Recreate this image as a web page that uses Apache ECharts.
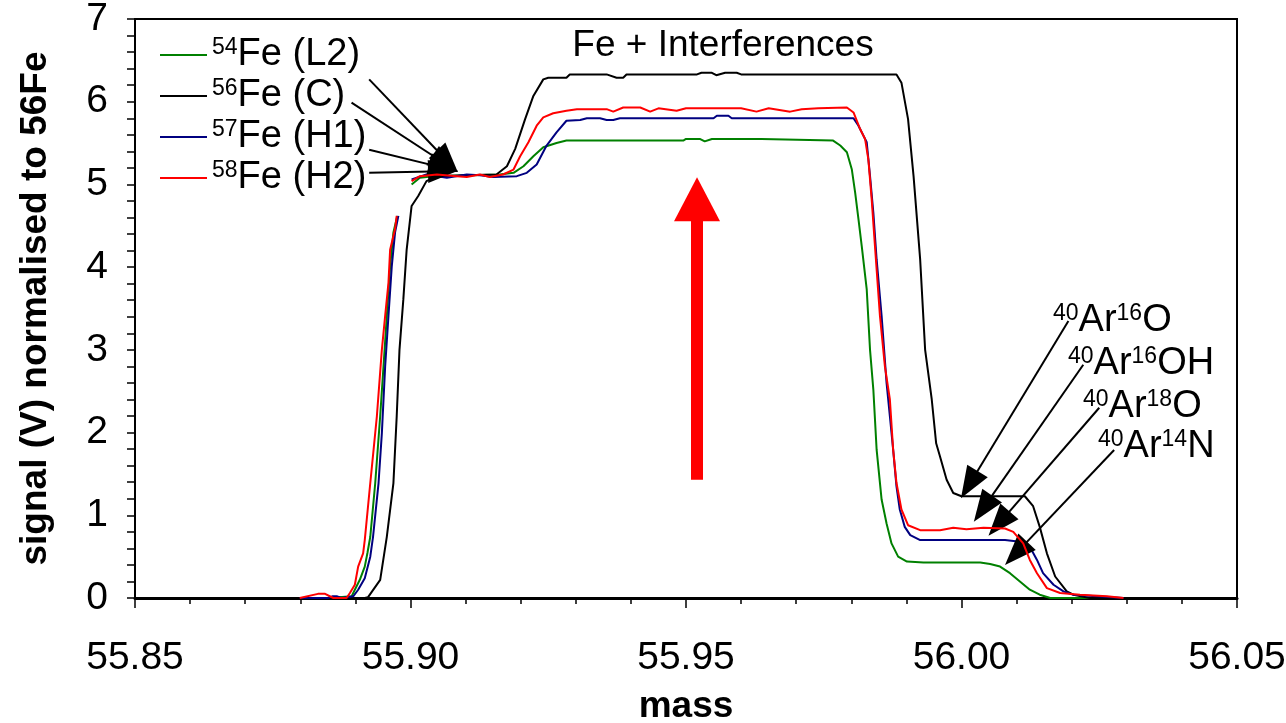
<!DOCTYPE html>
<html><head><meta charset="utf-8">
<script src="https://cdn.jsdelivr.net/npm/echarts@6/dist/echarts.min.js"></script>
<style>html,body{margin:0;padding:0;background:#fff}#c{width:1286px;height:723px}</style>
</head><body><div id="c"></div><script>
// ---- data (mass, signal) ----
const seriesNames = ['54Fe (L2)', '56Fe (C)', '57Fe (H1)', '58Fe (H2)'];
const seriesColors = ['#008000', '#000000', '#000080', '#ff0000'];

const fe54 = [[55.8799,0],[55.8850,0],[55.8870,0.01],[55.8893,0.02],[55.8899,0.10],[55.8908,0.22],[55.8917,0.38],[55.8922,0.55],[55.8927,0.74],[55.8936,1.39],[55.8945,2.20],[55.8951,2.80],[55.8957,3.41],[55.8963,4.01],[55.8969,4.42],[55.8976,4.62],[55.8990,null],[55.9002,5.00],[55.9017,5.08],[55.9041,5.10],[55.9162,5.12],[55.9187,5.14],[55.9205,5.22],[55.9223,5.34],[55.9241,5.45],[55.9265,5.50],[55.9283,5.53],[55.9495,5.53],[55.9500,5.55],[55.9525,5.55],[55.9534,5.52],[55.9547,5.55],[55.9637,5.55],[55.9640,5.53],[55.9767,5.53],[55.9780,5.47],[55.9792,5.39],[55.9801,5.18],[55.9807,4.90],[55.9813,4.58],[55.9819,4.25],[55.9828,3.73],[55.9834,3.00],[55.9840,2.52],[55.9846,1.79],[55.9855,1.19],[55.9864,0.90],[55.9873,0.66],[55.9885,0.50],[55.9901,0.44],[55.9931,0.43],[56.0034,0.43],[56.0052,0.41],[56.0070,0.38],[56.0088,0.30],[56.0106,0.20],[56.0124,0.10],[56.0142,0.04],[56.0161,0],[56.0294,0]];

const fe56 = [[55.8794,0],[55.8917,0],[55.8923,0.01],[55.8945,0.22],[55.8957,0.74],[55.8969,1.39],[55.8975,2.20],[55.8980,3.00],[55.8987,3.61],[55.8993,4.21],[55.9002,4.74],[55.9014,4.86],[55.9029,5.04],[55.9048,5.10],[55.9100,5.11],[55.9156,5.12],[55.9175,5.22],[55.9190,5.43],[55.9208,5.79],[55.9223,6.07],[55.9241,6.27],[55.9250,6.29],[55.9283,6.29],[55.9289,6.33],[55.9356,6.33],[55.9374,6.29],[55.9386,6.29],[55.9392,6.33],[55.9520,6.33],[55.9528,6.35],[55.9547,6.35],[55.9555,6.32],[55.9571,6.35],[55.9592,6.35],[55.9600,6.33],[55.9882,6.33],[55.9891,6.23],[55.9903,5.79],[55.9913,5.10],[55.9925,4.09],[55.9934,3.00],[55.9946,2.40],[55.9954,1.87],[55.9961,1.71],[55.9973,1.43],[55.9985,1.27],[56.0000,1.23],[56.0115,1.23],[56.0130,1.11],[56.0142,0.86],[56.0155,0.54],[56.0170,0.26],[56.0191,0.08],[56.0203,0.04],[56.0233,0],[56.0295,0]];

const fe57 = [[55.8799,0],[55.8850,0],[55.8858,0.02],[55.8867,0.02],[55.8875,0],[55.8896,0.02],[55.8905,0.10],[55.8917,0.24],[55.8927,0.50],[55.8932,0.74],[55.8942,1.39],[55.8948,1.99],[55.8954,2.80],[55.8960,3.41],[55.8966,4.01],[55.8972,4.42],[55.8978,4.62],[55.8990,null],[55.9002,5.06],[55.9029,5.12],[55.9066,5.08],[55.9102,5.12],[55.9126,5.11],[55.9150,5.09],[55.9193,5.10],[55.9211,5.14],[55.9229,5.24],[55.9247,5.47],[55.9265,5.63],[55.9283,5.77],[55.9308,5.78],[55.9320,5.80],[55.9344,5.80],[55.9356,5.78],[55.9368,5.78],[55.9380,5.80],[55.9550,5.80],[55.9556,5.83],[55.9577,5.83],[55.9583,5.80],[55.9804,5.80],[55.9813,5.71],[55.9822,5.59],[55.9828,5.51],[55.9834,5.10],[55.9840,4.66],[55.9846,4.09],[55.9855,3.41],[55.9864,2.60],[55.9870,2.20],[55.9876,1.79],[55.9882,1.35],[55.9888,1.07],[55.9897,0.86],[55.9907,0.76],[55.9925,0.70],[56.0079,0.70],[56.0082,0.68],[56.0106,0.68],[56.0124,0.62],[56.0137,0.46],[56.0148,0.30],[56.0167,0.16],[56.0185,0.08],[56.0203,0.04],[56.0294,0]];

const fe58 = [[55.8799,0],[55.8832,0.05],[55.8845,0.05],[55.8860,0],[55.8884,0],[55.8890,0.06],[55.8899,0.16],[55.8905,0.38],[55.8914,0.54],[55.8917,0.70],[55.8927,1.39],[55.8939,2.20],[55.8948,3.00],[55.8954,3.41],[55.8960,3.81],[55.8963,4.21],[55.8972,4.46],[55.8975,4.62],[55.8990,null],[55.9002,5.04],[55.9017,5.10],[55.9048,5.12],[55.9084,5.10],[55.9102,5.09],[55.9126,5.12],[55.9144,5.09],[55.9168,5.12],[55.9187,5.18],[55.9199,5.34],[55.9214,5.51],[55.9229,5.71],[55.9241,5.81],[55.9259,5.86],[55.9283,5.89],[55.9302,5.91],[55.9356,5.91],[55.9368,5.88],[55.9386,5.93],[55.9417,5.93],[55.9435,5.88],[55.9450,5.92],[55.9483,5.89],[55.9500,5.92],[55.9600,5.92],[55.9628,5.88],[55.9650,5.92],[55.9689,5.88],[55.9710,5.91],[55.9740,5.92],[55.9792,5.93],[55.9804,5.87],[55.9816,5.67],[55.9825,5.55],[55.9831,5.30],[55.9837,4.82],[55.9843,4.25],[55.9852,3.41],[55.9861,2.80],[55.9870,2.40],[55.9876,1.79],[55.9882,1.39],[55.9891,1.07],[55.9903,0.88],[55.9925,0.82],[55.9961,0.82],[55.9985,0.85],[56.0009,0.83],[56.0040,0.85],[56.0079,0.84],[56.0094,0.80],[56.0112,0.66],[56.0124,0.46],[56.0137,0.30],[56.0155,0.12],[56.0179,0.06],[56.0215,0.04],[56.0264,0.02],[56.0294,0]];

// axis ticks
const xTicks = { min: 55.85, max: 56.05, step: 0.05 };
const yTicks = { min: 0, max: 7, step: 1 };

// annotations (data units)
const titleText = 'Fe + Interferences';
const feArrowStarts = [[55.8925,6.27],[55.8893,5.99],[55.8925,5.42],[55.8925,5.14]];
const feArrowEnds   = [[55.9067,5.28],[55.9063,5.25],[55.9060,5.20],[55.9059,5.16]];
const arLabels = [['40','Ar','16','O'],['40','Ar','16','OH'],['40','Ar','18','O'],['40','Ar','14','N']];
const arArrowStarts = [[56.0194,3.35],[56.0221,2.82],[56.0250,2.30],[56.0277,1.79]];
const arArrowEnds   = [[56.0014,1.37],[56.0039,1.08],[56.0068,0.90],[56.0099,0.54]];
const bigArrow = [[55.9520,1.43],[55.9520,4.82]];

// ---- chart ----
const FONT = '"Liberation Sans", Arial, Helvetica, sans-serif';
const rich = {
  s: { fontSize: 23, lineHeight: 23, verticalAlign: 'top', fontFamily: FONT, color: '#000' },
  t: { fontSize: 38, lineHeight: 38, fontFamily: FONT, color: '#000' }
};
function supFmt(name) {
  const m = name.match(/^(\d+)(.*)$/);
  return m ? '{s|' + m[1] + '}{t|' + m[2] + '}' : '{t|' + name + '}';
}
const dataSets = [fe54, fe56, fe57, fe58];

const arrowLines = [];
feArrowStarts.forEach((s, i) => {
  arrowLines.push([{ coord: s, symbol: 'none', lineStyle: { color: '#000', width: 2 }, itemStyle: { color: '#000' } },
                   { coord: feArrowEnds[i], symbol: 'triangle', symbolSize: [23, 30], itemStyle: { color: '#000' } }]);
});
arArrowStarts.forEach((s, i) => {
  arrowLines.push([{ coord: s, symbol: 'none', lineStyle: { color: '#000', width: 2 }, itemStyle: { color: '#000' } },
                   { coord: arArrowEnds[i], symbol: 'triangle', symbolSize: [24, 32], itemStyle: { color: '#000' } }]);
});
arrowLines.push([
  { coord: bigArrow[0], symbol: 'none', lineStyle: { color: '#ff0000', width: 12 }, itemStyle: { color: '#ff0000' } },
  { coord: bigArrow[1], symbol: 'triangle', symbolSize: [46, 44], itemStyle: { color: '#ff0000' } }
]);

const series = seriesNames.map((n, i) => ({
  name: n, type: 'line', data: dataSets[i].map(p => [p[0], p[1] === null ? '-' : p[1]]),
  showSymbol: false, symbol: 'none', connectNulls: false, smooth: false,
  lineStyle: { color: seriesColors[i], width: 2 }, itemStyle: { color: seriesColors[i] },
  z: 2 + i, animation: false
}));
series[1].markLine = {
  silent: true, animation: false, label: { show: false },
  lineStyle: { color: '#000', width: 2, type: 'solid' }, itemStyle: { color: '#000' },
  emphasis: { disabled: true },
  data: arrowLines
};

const graphics = [{
  type: 'text', x: 723, y: 27, z: 100,
  style: { text: titleText, fontSize: 37, fontFamily: FONT, fill: '#000', align: 'center', verticalAlign: 'top' }
}];
const arPos = [[1053, 302], [1068, 345], [1083, 388], [1098, 428]];
arLabels.forEach((l, i) => {
  graphics.push({
    type: 'text', x: arPos[i][0], y: arPos[i][1], z: 100,
    style: { text: '{s|' + l[0] + '}{t|' + l[1] + '}{s|' + l[2] + '}{t|' + l[3] + '}', rich: rich, fill: '#000' }
  });
});

const chart = echarts.init(document.getElementById('c'), null, { renderer: 'canvas' });
chart.setOption({
  animation: false,
  backgroundColor: '#fff',
  grid: { left: 135, right: 49, top: 19, bottom: 125, show: true, borderColor: '#000', borderWidth: 2, containLabel: false, outerBoundsMode: 'none' },
  legend: {
    data: seriesNames, orient: 'vertical', left: 155, top: 31, itemWidth: 47, itemHeight: 2, itemGap: 3,
    icon: 'rect', selectedMode: false, formatter: supFmt,
    textStyle: { color: '#000', fontFamily: FONT, fontSize: 38, rich: rich }
  },
  xAxis: {
    type: 'value', min: xTicks.min, max: xTicks.max, interval: xTicks.step,
    axisLine: { show: true, onZero: false, lineStyle: { color: '#000', width: 3 } },
    axisTick: { show: true, inside: false, length: 10, lineStyle: { color: '#000', width: 1.5 } },
    minorTick: { show: true, splitNumber: 5, length: 6, lineStyle: { color: '#000', width: 1.5 } },
    splitLine: { show: false }, minorSplitLine: { show: false },
    axisLabel: { formatter: v => v.toFixed(2), fontSize: 39, fontFamily: FONT, color: '#000', margin: 41 },
    name: 'mass', nameLocation: 'middle', nameGap: 90,
    nameTextStyle: { fontSize: 37, fontWeight: 'bold', fontFamily: FONT, color: '#000' }
  },
  yAxis: {
    type: 'value', min: yTicks.min, max: yTicks.max, interval: yTicks.step,
    axisLine: { show: true, lineStyle: { color: '#000', width: 2 } },
    axisTick: { show: true, inside: false, length: 8, lineStyle: { color: '#000', width: 1.5 } },
    minorTick: { show: true, splitNumber: 5, length: 8, lineStyle: { color: '#000', width: 1.5 } },
    splitLine: { show: false }, minorSplitLine: { show: false },
    axisLabel: { fontSize: 39, fontFamily: FONT, color: '#000', margin: 27 },
    name: 'signal (V) normalised to 56Fe', nameLocation: 'middle', nameGap: 81,
    nameTextStyle: { fontSize: 37, fontWeight: 'bold', fontFamily: FONT, color: '#000' }
  },
  series: series,
  graphic: graphics
});
</script></body></html>
